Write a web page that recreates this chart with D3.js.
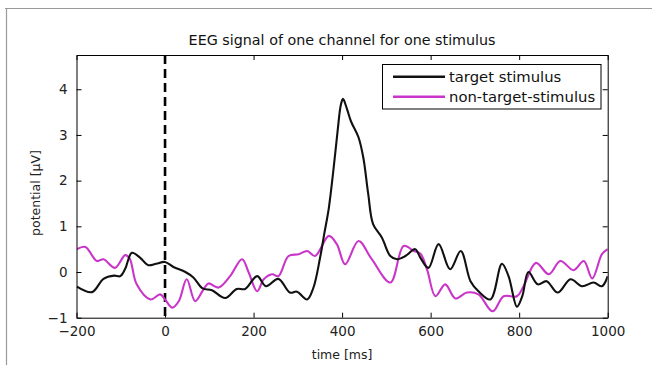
<!DOCTYPE html>
<html>
<head>
<meta charset="utf-8">
<script src="https://cdn.jsdelivr.net/npm/d3@7"></script>
<style>
  html, body { margin: 0; padding: 0; background: #fff; }
  svg { display: block; }
</style>
</head>
<body>
<svg id="chart" width="652" height="365"></svg>
<script>
// ---- data ----
const title = "EEG signal of one channel for one stimulus";
const xLabel = "time [ms]";
const yLabel = "potential [µV]";
const seriesNames = ["target stimulus", "non-target-stimulus"];
const xTicks = [-200, 0, 200, 400, 600, 800, 1000];
const yTicks = [-1, 0, 1, 2, 3, 4];

const targetTime = [-199, -165, -139, -115, -101, -90, -75, -56, -38, -20, 0, 19, 46, 64, 85, 106, 136, 162, 181, 208, 228, 256, 282, 298, 321, 335, 350, 360, 370, 380, 390, 397, 402, 410, 420, 437, 448, 459, 470, 490, 509, 524, 543, 565, 577, 595, 618, 644, 668, 690, 708, 735, 761, 776, 795, 807, 821, 842, 862, 887, 916, 942, 968, 987, 1000];
const targetValue = [-0.32, -0.44, -0.15, -0.08, -0.09, 0.07, 0.42, 0.31, 0.15, 0.18, 0.22, 0.11, 0.0, -0.12, -0.36, -0.40, -0.57, -0.37, -0.37, -0.09, -0.31, -0.15, -0.45, -0.43, -0.6, -0.35, 0.3, 0.85, 1.4, 2.2, 3.1, 3.65, 3.79, 3.6, 3.3, 2.95, 2.5, 1.71, 1.05, 0.75, 0.35, 0.28, 0.35, 0.5, 0.31, 0.09, 0.61, 0.06, 0.46, -0.2, -0.42, -0.6, 0.18, -0.09, -0.76, -0.53, 0.0, -0.27, -0.2, -0.45, -0.16, -0.31, -0.23, -0.31, -0.09];

const nonTargetTime = [-199, -180, -154, -139, -113, -90, -80, -64, -33, -11, 0, 16, 31, 49, 68, 87, 98, 121, 147, 174, 189, 208, 223, 242, 256, 279, 302, 321, 339, 370, 388, 407, 437, 467, 509, 539, 562, 577, 592, 611, 633, 656, 682, 708, 740, 765, 795, 810, 838, 867, 893, 923, 946, 965, 987, 1000];
const nonTargetValue = [0.5, 0.55, 0.24, 0.28, 0.09, 0.37, 0.3, -0.27, -0.6, -0.49, -0.6, -0.78, -0.64, -0.16, -0.64, -0.38, -0.25, -0.34, -0.09, 0.28, -0.01, -0.42, -0.16, -0.05, -0.09, 0.35, 0.39, 0.46, 0.35, 0.79, 0.61, 0.17, 0.68, 0.28, -0.23, 0.57, 0.46, 0.4, 0.05, -0.53, -0.27, -0.58, -0.45, -0.49, -0.86, -0.53, -0.53, -0.31, 0.2, -0.05, 0.24, 0.04, 0.24, -0.14, 0.39, 0.5];

const stimulusOnset = [0];

// ---- layout ----
const svg = d3.select("#chart");
const FONT = "'DejaVu Sans', Verdana, sans-serif";
const pLeft = 76.5, pRight = 607.7, pTop = 55, pBottom = 317.7;
const x = d3.scaleLinear().domain([-200, 1000]).range([pLeft, pRight]);
const y = d3.scaleLinear().domain([-1, 4.75]).range([pBottom, pTop]);
const colors = ["#111111", "#c935c9"];

// outer frame (top + left edges)
svg.append("line").attr("x1", 5).attr("x2", 652).attr("y1", 8.5).attr("y2", 8.5)
  .attr("stroke", "#9a9a9a").attr("stroke-width", 1.2);
svg.append("line").attr("x1", 6.5).attr("x2", 6.5).attr("y1", 8).attr("y2", 365)
  .attr("stroke", "#9a9a9a").attr("stroke-width", 1.2);

// plot background
svg.append("rect").attr("x", pLeft).attr("y", pTop).attr("width", pRight - pLeft).attr("height", pBottom - pTop)
  .attr("fill", "#fff");

// clip
svg.append("clipPath").attr("id", "clip").append("rect")
  .attr("x", pLeft).attr("y", pTop).attr("width", pRight - pLeft).attr("height", pBottom - pTop);

const line = d3.line().curve(d3.curveCatmullRom.alpha(0.5))
  .x(d => x(d[0])).y(d => y(d[1]));

const plot = svg.append("g").attr("clip-path", "url(#clip)");

// dashed onset line
plot.selectAll(".onset").data(stimulusOnset).enter().append("line")
  .attr("x1", d => x(d)).attr("x2", d => x(d)).attr("y1", pTop).attr("y2", pBottom)
  .attr("stroke", "#000").attr("stroke-width", 2.6).attr("stroke-dasharray", "9,5");

const series = [
  d3.zip(nonTargetTime, nonTargetValue),
  d3.zip(targetTime, targetValue)
];
const seriesColors = [colors[1], colors[0]];
plot.selectAll(".series").data(series).enter().append("path")
  .attr("d", line).attr("fill", "none")
  .attr("stroke", (d, i) => seriesColors[i])
  .attr("stroke-width", 2.1).attr("stroke-linejoin", "round");

// axes
const tickFont = g => g.selectAll("text").attr("font-family", FONT).attr("font-size", 13.5).attr("fill", "#222");
const styleAxis = g => { g.select(".domain").attr("stroke", "#000"); g.selectAll(".tick line").attr("stroke", "#000"); };

svg.append("g").attr("transform", `translate(0,${pBottom})`)
  .call(d3.axisBottom(x).tickValues(xTicks).tickSizeInner(-5).tickSizeOuter(0).tickPadding(9).tickFormat(d3.format("d")))
  .call(tickFont).call(styleAxis);
svg.append("g").attr("transform", `translate(0,${pTop})`)
  .call(d3.axisTop(x).tickValues(xTicks).tickSizeInner(-5).tickSizeOuter(0).tickFormat(""))
  .call(styleAxis);
svg.append("g").attr("transform", `translate(${pLeft},0)`)
  .call(d3.axisLeft(y).tickValues(yTicks).tickSizeInner(-5).tickSizeOuter(0).tickPadding(9).tickFormat(d3.format("d")))
  .call(tickFont).call(styleAxis);
svg.append("g").attr("transform", `translate(${pRight},0)`)
  .call(d3.axisRight(y).tickValues(yTicks).tickSizeInner(-5).tickSizeOuter(0).tickFormat(""))
  .call(styleAxis);

// title & labels
svg.append("text").attr("x", (pLeft + pRight) / 2).attr("y", 45).attr("text-anchor", "middle")
  .attr("font-family", FONT).attr("font-size", 14.3).attr("fill", "#111").text(title);
svg.append("text").attr("x", (pLeft + pRight) / 2).attr("y", 359).attr("text-anchor", "middle")
  .attr("font-family", FONT).attr("font-size", 12.5).attr("fill", "#222").text(xLabel);
svg.append("text").attr("transform", "translate(40,193) rotate(-90)").attr("text-anchor", "middle")
  .attr("font-family", FONT).attr("font-size", 12.5).attr("fill", "#222").text(yLabel);

// legend
const lg = svg.append("g");
lg.append("rect").attr("x", 382.5).attr("y", 64.5).attr("width", 218.5).attr("height", 44.5)
  .attr("fill", "#fff").attr("stroke", "#000").attr("stroke-width", 1);
seriesNames.forEach((name, i) => {
  const yy = 76.7 + i * 20;
  lg.append("line").attr("x1", 393).attr("x2", 445).attr("y1", yy).attr("y2", yy)
    .attr("stroke", colors[i]).attr("stroke-width", 2.6);
  lg.append("text").attr("x", 449).attr("y", yy).attr("dy", "0.35em")
    .attr("font-family", FONT).attr("font-size", 14.8).attr("fill", "#111").text(name);
});
</script>
</body>
</html>
